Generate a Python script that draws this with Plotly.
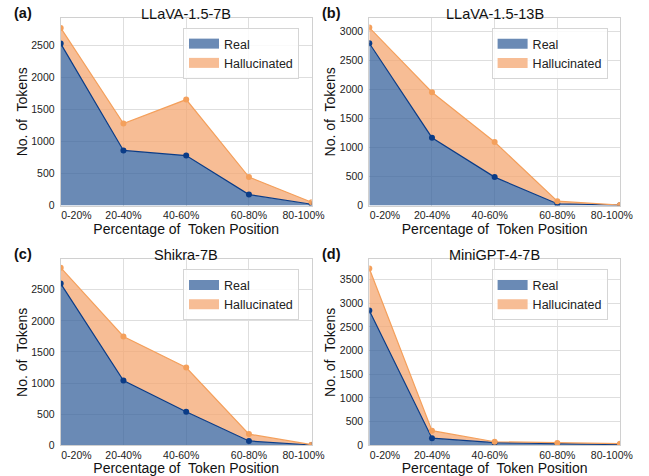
import plotly.graph_objects as go

categories = ["0-20%", "20-40%", "40-60%", "60-80%", "80-100%"]
tick_pos = [0.25, 1.0, 1.92, 3.0, 3.87]

titles = ["LLaVA-1.5-7B", "LLaVA-1.5-13B", "Shikra-7B", "MiniGPT-4-7B"]
panel_labels = ["(a)", "(b)", "(c)", "(d)"]

real_a = [2530, 860, 780, 170, 20]
hall_a = [2775, 1280, 1655, 445, 50]
real_b = [2800, 1170, 490, 30, 5]
hall_b = [3070, 1955, 1095, 75, 8]
real_c = [2600, 1040, 540, 70, 5]
hall_c = [2855, 1750, 1250, 180, 10]
real_d = [2850, 150, 55, 35, 15]
hall_d = [3735, 310, 75, 50, 35]

reals = [real_a, real_b, real_c, real_d]
halls = [hall_a, hall_b, hall_c, hall_d]
y_max = [2930, 3235, 2990, 3930]

W, H = 649, 476
FONT = "Liberation Sans, Arial, sans-serif"

# plot area boxes in pixels (left, right, top, bottom)
boxes = [(60.7, 311.7, 18, 205.5), (369.3, 620, 18, 205.5),
         (60.7, 311.7, 259.3, 445.3), (369.3, 620, 259.3, 445.3)]

BLUE_FILL = "rgba(56,99,156,0.75)"
BLUE_LINE = "#0b3c87"
ORANGE_FILL = "rgba(244,167,114,0.75)"
ORANGE_LINE = "#f4a05c"
LEG_BLUE = "rgb(106,138,181)"
LEG_ORANGE = "rgb(247,189,149)"

fig = go.Figure()
x_idx = list(range(len(categories)))

for i in range(4):
    ax = "" if i == 0 else str(i + 1)
    xa, ya = "x" + ax, "y" + ax
    leg = "legend" + ax
    fig.add_trace(go.Scatter(
        x=x_idx, y=reals[i], xaxis=xa, yaxis=ya, mode="lines+markers",
        fill="tozeroy", fillcolor=BLUE_FILL,
        line=dict(color=BLUE_LINE, width=1.2), marker=dict(size=6, color=BLUE_LINE),
        showlegend=False, hoverinfo="skip"))
    fig.add_trace(go.Scatter(
        x=x_idx, y=halls[i], xaxis=xa, yaxis=ya, mode="lines+markers",
        fill="tonexty", fillcolor=ORANGE_FILL,
        line=dict(color=ORANGE_LINE, width=1.2), marker=dict(size=6, color=ORANGE_LINE),
        showlegend=False, hoverinfo="skip"))
    # legend entries
    fig.add_trace(go.Scatter(
        x=[None], y=[None], xaxis=xa, yaxis=ya, mode="lines", name="Real",
        line=dict(color=LEG_BLUE, width=10), legend=leg, showlegend=True))
    fig.add_trace(go.Scatter(
        x=[None], y=[None], xaxis=xa, yaxis=ya, mode="lines", name="Hallucinated",
        line=dict(color=LEG_ORANGE, width=10), legend=leg, showlegend=True))

layout = dict(
    width=W, height=H, margin=dict(l=0, r=0, t=0, b=0, autoexpand=False),
    paper_bgcolor="white", plot_bgcolor="white",
    font=dict(family=FONT, color="#222222"),
    annotations=[], showlegend=True,
)

GRID = "#dedede"
for i, (l, r, t, b) in enumerate(boxes):
    ax = "" if i == 0 else str(i + 1)
    layout["xaxis" + ax] = dict(
        domain=[l / W, r / W], anchor="y" + ax, range=[0, 4], automargin=False,
        tickmode="array", tickvals=tick_pos, ticktext=categories,
        showgrid=False, zeroline=False, ticks="",
        tickfont=dict(size=10.5, color="#222222"),
        showline=True, mirror=True, linecolor="#d0d0d0", linewidth=1,
        minor=dict(tickmode="linear", tick0=0, dtick=1, showgrid=True,
                   gridcolor=GRID, gridwidth=1, ticks=""),
        title=dict(text="Percentage of  Token Position", standoff=1,
                   font=dict(size=14, color="#111111")),
    )
    layout["yaxis" + ax] = dict(
        domain=[1 - b / H, 1 - t / H], anchor="x" + ax, range=[0, y_max[i]],
        automargin=False,
        dtick=500, tick0=0, showgrid=True, gridcolor=GRID, gridwidth=1,
        zeroline=False, ticks="", ticklabelstandoff=3,
        tickfont=dict(size=10.5, color="#222222"),
        showline=True, mirror=True, linecolor="#d0d0d0", linewidth=1,
        title=dict(text="No. of  Tokens", standoff=0,
                   font=dict(size=14, color="#111111")),
    )
    layout["legend" + ax] = dict(
        x=(l + 122.3) / W, y=1 - (t + 10) / H, xanchor="left", yanchor="top",
        xref="paper", yref="paper", traceorder="normal",
        bgcolor="rgba(255,255,255,0.85)", bordercolor="#d5d5d5", borderwidth=1,
        font=dict(size=12.5, family=FONT, color="#222222"),
        itemwidth=30, tracegroupgap=0,
    )
    layout["annotations"].append(dict(
        text=titles[i], x=(l + r) / 2 / W, y=1 - (t - 4) / H, xref="paper", yref="paper",
        xanchor="center", yanchor="middle", showarrow=False,
        font=dict(size=14.5, color="#111111", family=FONT)))
    layout["annotations"].append(dict(
        text="<b>" + panel_labels[i] + "</b>", x=(l - 49) / W, y=1 - (t - 5) / H,
        xref="paper", yref="paper",
        xanchor="left", yanchor="middle", showarrow=False,
        font=dict(size=14.5, color="#111111", family=FONT)))

fig.update_layout(**layout)
fig.write_html("out.html", config={"displayModeBar": False},
               post_script="document.body.style.margin='0px';document.body.style.overflow='hidden';")
